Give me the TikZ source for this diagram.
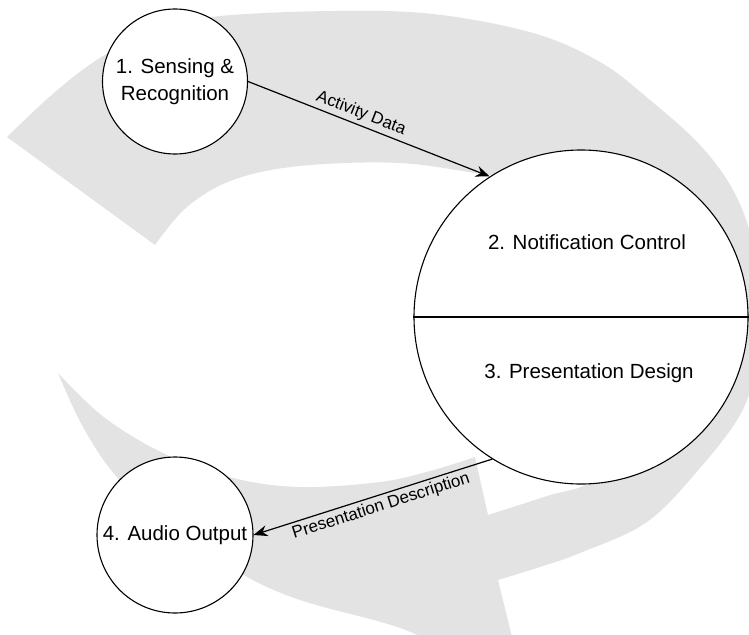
\documentclass[tikz,border=0pt]{standalone}
\usepackage{fontspec}
\setmainfont{Liberation Sans}
\usetikzlibrary{arrows.meta}
\definecolor{bandgray}{RGB}{227,227,227}
\begin{document}
\begin{tikzpicture}[x=1pt,y=-1pt,
  proc/.style={circle, draw=black, line width=1.1pt, fill=white, inner sep=0pt},
  proctext/.style={font=\fontsize{20.5}{27}\selectfont, align=center},
  flow/.style={draw=black, line width=1.2pt, -{Stealth[length=14pt,width=11pt]}},
  flowlabel/.style={font=\fontsize{17}{20}\selectfont, sloped, inner sep=3pt}]
\useasboundingbox (0,0) rectangle (749,634);

% big clockwise arrow in the background
\begin{scope}
  \clip (0,0) rectangle (749,634);
  \fill[bandgray]
    plot[smooth, tension=0.6] coordinates {(7,137) (55,92) (103,56) (160,28) (220,16) (333,11) (433,14) (533,33) (600,62) (650,100) (700,145) (733,190) (752,240) (763,310) (755,370) (740,415) (700,468) (647,522) (580,553) (540,567) (498,580)}
    -- (525,690)
    -- plot[smooth, tension=0.6] coordinates {(470,660) (400,628) (300,600) (240,573) (175,530) (117,477) (83,427) (58,373)}
    -- plot[smooth, tension=0.6] coordinates {(58,373) (105,418) (167,455) (233,478) (300,487) (380,482) (430,471) (475,457)}
    -- (488,515)
    -- plot[smooth, tension=0.6] coordinates {(488,515) (547,496) (595,480) (665,425) (700,330) (650,220) (560,180) (490,175) (400,163) (300,166) (233,180) (187,207) (155,245)}
    -- cycle;
\end{scope}

% processes
\node[proc, minimum size=145pt, proctext] (s1) at (175,81.5) {1. Sensing \&\\Recognition};
\node[proc, minimum size=156pt, proctext] (s4) at (175,535) {4. Audio Output};
\node[proc, minimum size=334pt] (nc) at (581,317) {};
\draw[line width=1.1pt] (nc.west) -- (nc.east);
\node[proctext] (t2) at (587,242) {2. Notification Control};
\node[proctext] (t3) at (589,373) {3. Presentation Design};

% data flows
\draw[flow] (s1.east) -- node[flowlabel, above, pos=0.45] (l1) {Activity Data} (nc.123);
\draw[flow] (nc.238) -- node[flowlabel, below, pos=0.48] (l2) {Presentation Description} (s4.east);
\end{tikzpicture}
\end{document}
